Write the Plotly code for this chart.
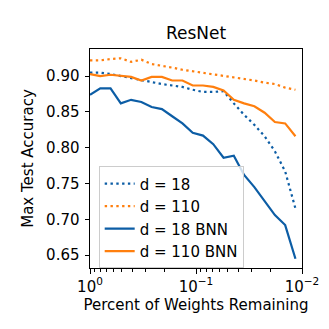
import numpy as np
import plotly.graph_objects as go

# fraction of weights remaining after k rounds of 20% pruning
rounds = list(range(21))
remaining = [0.8 ** k for k in rounds]

acc_d18 = [0.905, 0.905, 0.903, 0.900, 0.898, 0.895, 0.892, 0.889, 0.887, 0.885, 0.881,
           0.878, 0.878, 0.879, 0.862, 0.846, 0.832, 0.816, 0.795, 0.767, 0.715]
acc_d110 = [0.922, 0.922, 0.924, 0.925, 0.920, 0.923, 0.917, 0.915, 0.912, 0.909, 0.907,
            0.905, 0.903, 0.900, 0.898, 0.896, 0.894, 0.891, 0.889, 0.884, 0.881]
acc_d18_bnn = [0.874, 0.883, 0.883, 0.862, 0.867, 0.864, 0.857, 0.854, 0.844, 0.834, 0.821,
               0.817, 0.805, 0.786, 0.789, 0.762, 0.745, 0.726, 0.706, 0.692, 0.645]
acc_d110_bnn = [0.903, 0.900, 0.902, 0.900, 0.899, 0.894, 0.899, 0.899, 0.894, 0.894, 0.887,
                0.887, 0.885, 0.880, 0.867, 0.862, 0.858, 0.849, 0.836, 0.834, 0.816]

x_tickvals = [1, 0.1, 0.01]
x_ticktext = ["10<sup>0</sup>", "10<sup>\u22121</sup>", "10<sup>\u22122</sup>"]
y_tickvals = [0.65, 0.70, 0.75, 0.80, 0.85, 0.90]

BLUE = "#0C5DA5"
ORANGE = "#FF7F0E"
DOT = "2.4px,3.4px"

series = [
    ("d = 18", acc_d18, BLUE, DOT),
    ("d = 110", acc_d110, ORANGE, DOT),
    ("d = 18 BNN", acc_d18_bnn, BLUE, "solid"),
    ("d = 110 BNN", acc_d110_bnn, ORANGE, "solid"),
]

fig = go.Figure()
for name, acc, color, dash in series:
    fig.add_trace(go.Scatter(
        x=remaining, y=acc, mode="lines", name=name,
        line=dict(color=color, width=2.2, dash=dash),
    ))

minor_vals = [m * 10.0 ** e for e in (-2, -1) for m in range(2, 10)]

font = dict(family="DejaVu Sans", size=15, color="black")
fig.update_layout(
    width=329, height=329,
    margin=dict(l=82, r=35, t=41, b=69),
    paper_bgcolor="white", plot_bgcolor="white",
    font=font,
    title=dict(text="ResNet", x=0.5, xref="paper", y=1 - 25 / 329, yanchor="middle",
               font=dict(family="DejaVu Sans", size=17, color="black"), automargin=False),
    showlegend=True,
    legend=dict(x=0.041, y=0.4636, xanchor="left", yanchor="top",
                bgcolor="rgba(255,255,255,0.8)", bordercolor="#cccccc", borderwidth=1,
                font=font, itemwidth=30, tracegroupgap=0),
)
fig.update_xaxes(
    type="log", range=[0, -2], automargin=False,
    tickvals=x_tickvals, ticktext=x_ticktext, tickfont=font,
    ticks="outside", ticklen=4.5, tickwidth=0.8, tickcolor="black",
    minor=dict(tickvals=minor_vals, ticks="outside", ticklen=2.5, tickwidth=0.6,
               tickcolor="black", showgrid=False),
    showline=True, mirror=True, linecolor="black", linewidth=1,
    showgrid=False, zeroline=False,
    title=dict(text="Percent of Weights Remaining", standoff=4, font=font),
)
fig.update_yaxes(
    range=[0.632, 0.938], automargin=False,
    tickvals=y_tickvals, tickformat=".2f", tickfont=font,
    ticks="outside", ticklen=4.5, tickwidth=0.8, tickcolor="black",
    ticklabelstandoff=2,
    showline=True, mirror=True, linecolor="black", linewidth=1,
    showgrid=False, zeroline=False,
    title=dict(text="Max Test Accuracy", standoff=8, font=font),
)

fig.write_html("out.html")
